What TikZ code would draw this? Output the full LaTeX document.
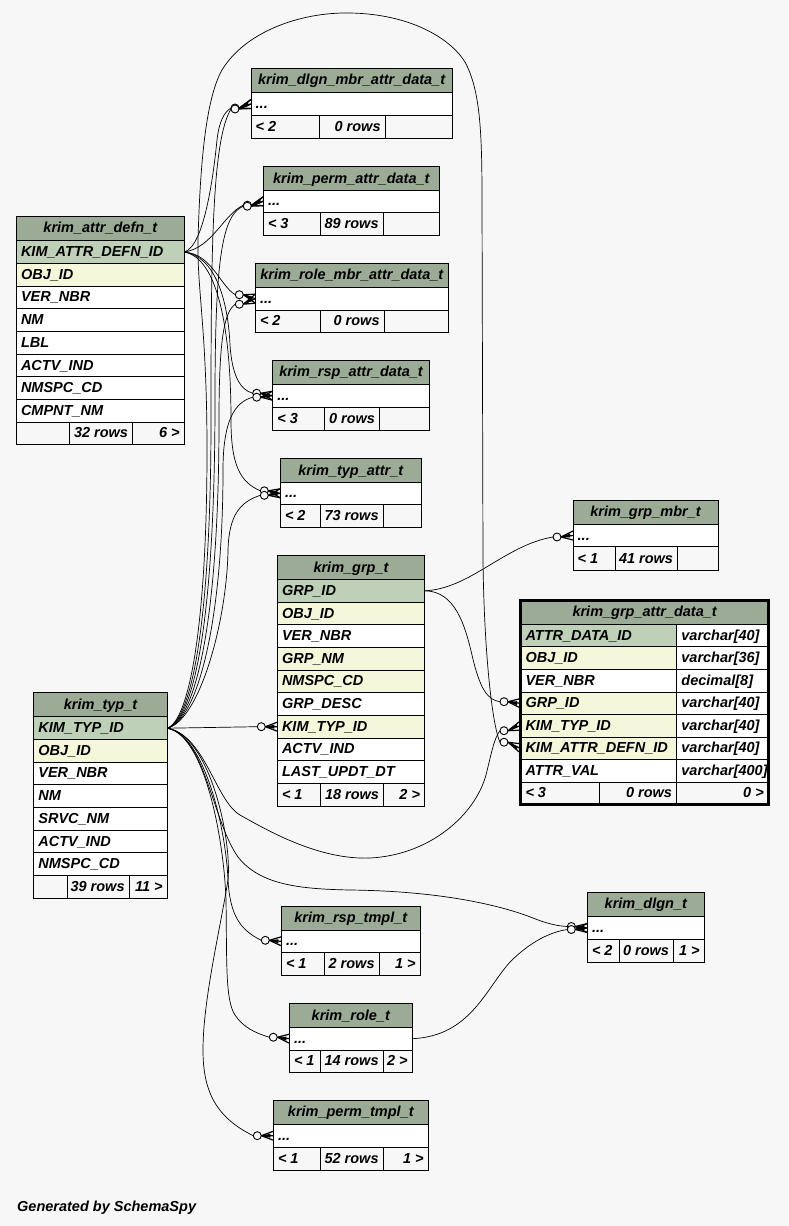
\documentclass[tikz,border=0pt]{standalone}
\usepackage{fontspec}
\setmainfont{Liberation Sans}
\usetikzlibrary{backgrounds}
\definecolor{bgc}{HTML}{F7F7F7}
\definecolor{hdc}{HTML}{9BAB96}
\definecolor{pkc}{HTML}{BED1B8}
\definecolor{ixc}{HTML}{F4F7DA}
\newcommand\fnt{\fontsize{14.5}{17}\selectfont\bfseries\itshape}
\newcommand\cbx[5]{\path[cell,fill=#5] (#1,#2) rectangle (#3,#4);}
\newcommand\rL[7]{\cbx{#2}{#3}{#4}{#5}{#6}\node[txt,anchor=base west] (#1) at ({#2+4.5},{(#3+#5)/2+4.5}) {#7};}
\newcommand\rR[7]{\cbx{#2}{#3}{#4}{#5}{#6}\node[txt,anchor=base east] (#1) at ({#4-4.5},{(#3+#5)/2+4.5}) {#7};}
\newcommand\rC[7]{\cbx{#2}{#3}{#4}{#5}{#6}\node[txt,anchor=base] (#1) at ({(#2+#4)/2},{(#3+#5)/2+4.5}) {#7};}
\newcommand\mkr[4]{%
 \coordinate (#1) at ({#2-20},{#3+(#4)});
 \draw[mk,fill=bgc] ({#2-16},{#3+(#4)}) circle[radius=4pt];
 \draw[crow] ({#2-12},{#3+(#4)}) -- (#2,{#3-4.5}) ({#2-12},{#3+(#4)}) -- (#2,#3) ({#2-12},{#3+(#4)}) -- (#2,{#3+4.5});
 \fill ({#2-12},{#3+(#4)}) -- ({#2-3},{#3-2}) -- ({#2-3},{#3+2}) -- cycle;}
\tikzset{
 cell/.style={draw=black,line width=0.9pt},
 txt/.style={inner sep=0pt,font=\fnt},
 mk/.style={draw=black,line width=0.9pt},
 crow/.style={draw=black,line width=1.2pt},
 edge/.style={draw=black,line width=0.7pt}
}
\begin{document}
\begin{tikzpicture}[x=1pt,y=-1pt]
\begin{scope}[on background layer]
\path[fill=bgc] (0,0) rectangle (789,1226);
\end{scope}
\useasboundingbox (0,0) rectangle (789,1226);

% krim_dlgn_mbr_attr_data_t
\rC{dm-h}{251}{68.3}{452.3}{92.3}{hdc}{krim\_dlgn\_mbr\_attr\_data\_t}
\rL{dm-r}{251}{92.3}{452.3}{115.7}{white}{...}
\rL{dm-f1}{251}{115.7}{319.3}{138}{bgc}{< 2}
\rR{dm-f2}{319.3}{115.7}{385.3}{138}{bgc}{0 rows}
\cbx{385.3}{115.7}{452.3}{138}{bgc}

% krim_perm_attr_data_t
\rC{pa-h}{263.3}{166.7}{439.3}{190.3}{hdc}{krim\_perm\_attr\_data\_t}
\rL{pa-r}{263.3}{190.3}{439.3}{212}{white}{...}
\rL{pa-f1}{263.3}{212}{320.3}{235}{bgc}{< 3}
\rR{pa-f2}{320.3}{212}{383.3}{235}{bgc}{89 rows}
\cbx{383.3}{212}{439.3}{235}{bgc}

% krim_attr_defn_t
\rC{ad-h}{16.3}{216}{184.3}{240.7}{hdc}{krim\_attr\_defn\_t}
\rL{ad-1}{16.3}{240.7}{184.3}{263.4}{pkc}{KIM\_ATTR\_DEFN\_ID}
\rL{ad-2}{16.3}{263.4}{184.3}{286.1}{ixc}{OBJ\_ID}
\rL{ad-3}{16.3}{286.1}{184.3}{308.8}{white}{VER\_NBR}
\rL{ad-4}{16.3}{308.8}{184.3}{331.5}{white}{NM}
\rL{ad-5}{16.3}{331.5}{184.3}{354.2}{white}{LBL}
\rL{ad-6}{16.3}{354.2}{184.3}{376.9}{white}{ACTV\_IND}
\rL{ad-7}{16.3}{376.9}{184.3}{399.6}{white}{NMSPC\_CD}
\rL{ad-8}{16.3}{399.6}{184.3}{422.3}{white}{CMPNT\_NM}
\cbx{16.3}{422.3}{69}{444.3}{bgc}
\rR{ad-f2}{69}{422.3}{132.7}{444.3}{bgc}{32 rows}
\rR{ad-f3}{132.7}{422.3}{184.3}{444.3}{bgc}{6 >}

% krim_role_mbr_attr_data_t
\rC{rm-h}{255.3}{263.3}{448.3}{287.3}{hdc}{krim\_role\_mbr\_attr\_data\_t}
\rL{rm-r}{255.3}{287.3}{448.3}{310}{white}{...}
\rL{rm-f1}{255.3}{310}{320.3}{332.3}{bgc}{< 2}
\rR{rm-f2}{320.3}{310}{384.3}{332.3}{bgc}{0 rows}
\cbx{384.3}{310}{448.3}{332.3}{bgc}

% krim_rsp_attr_data_t
\rC{ra-h}{272.7}{360.3}{429.3}{384.3}{hdc}{krim\_rsp\_attr\_data\_t}
\rL{ra-r}{272.7}{384.3}{429.3}{407}{white}{...}
\rL{ra-f1}{272.7}{407}{324.3}{430}{bgc}{< 3}
\rR{ra-f2}{324.3}{407}{379.7}{430}{bgc}{0 rows}
\cbx{379.7}{407}{429.3}{430}{bgc}

% krim_typ_attr_t
\rC{ta-h}{280.3}{458.7}{421.3}{482.3}{hdc}{krim\_typ\_attr\_t}
\rL{ta-r}{280.3}{482.3}{421.3}{504.3}{white}{...}
\rL{ta-f1}{280.3}{504.3}{320.3}{527.3}{bgc}{< 2}
\rR{ta-f2}{320.3}{504.3}{383.3}{527.3}{bgc}{73 rows}
\cbx{383.3}{504.3}{421.3}{527.3}{bgc}

% krim_grp_t
\rC{gp-h}{277.3}{555.7}{424.7}{579.3}{hdc}{krim\_grp\_t}
\rL{gp-1}{277.3}{579.3}{424.7}{602.3}{pkc}{GRP\_ID}
\rL{gp-2}{277.3}{602.3}{424.7}{624.7}{ixc}{OBJ\_ID}
\rL{gp-3}{277.3}{624.7}{424.7}{647.3}{white}{VER\_NBR}
\rL{gp-4}{277.3}{647.3}{424.7}{670}{ixc}{GRP\_NM}
\rL{gp-5}{277.3}{670}{424.7}{692.3}{ixc}{NMSPC\_CD}
\rL{gp-6}{277.3}{692.3}{424.7}{715.3}{white}{GRP\_DESC}
\rL{gp-7}{277.3}{715.3}{424.7}{738}{ixc}{KIM\_TYP\_ID}
\rL{gp-8}{277.3}{738}{424.7}{760.3}{white}{ACTV\_IND}
\rL{gp-9}{277.3}{760.3}{424.7}{783.3}{white}{LAST\_UPDT\_DT}
\rL{gp-f1}{277.3}{783.3}{320.3}{806}{bgc}{< 1}
\rR{gp-f2}{320.3}{783.3}{383.7}{806}{bgc}{18 rows}
\rR{gp-f3}{383.7}{783.3}{424.7}{806}{bgc}{2 >}

% krim_grp_mbr_t
\rC{gm-h}{573}{500.3}{718}{524.3}{hdc}{krim\_grp\_mbr\_t}
\rL{gm-r}{573}{524.3}{718}{546.7}{white}{...}
\rL{gm-f1}{573}{546.7}{615.3}{570.3}{bgc}{< 1}
\rR{gm-f2}{615.3}{546.7}{677.7}{570.3}{bgc}{41 rows}
\cbx{677.7}{546.7}{718}{570.3}{bgc}

% krim_grp_attr_data_t
\rC{ga-h}{520.8}{600.5}{768.5}{624.3}{hdc}{krim\_grp\_attr\_data\_t}
\rL{ga-1}{520.8}{624.3}{676.7}{646.7}{pkc}{ATTR\_DATA\_ID}
\rL{ga-1t}{676.7}{624.3}{768.5}{646.7}{white}{varchar[40]}
\rL{ga-2}{520.8}{646.7}{676.7}{669}{ixc}{OBJ\_ID}
\rL{ga-2t}{676.7}{646.7}{768.5}{669}{white}{varchar[36]}
\rL{ga-3}{520.8}{669}{676.7}{692}{white}{VER\_NBR}
\rL{ga-3t}{676.7}{669}{768.5}{692}{white}{decimal[8]}
\rL{ga-4}{520.8}{692}{676.7}{714.3}{ixc}{GRP\_ID}
\rL{ga-4t}{676.7}{692}{768.5}{714.3}{white}{varchar[40]}
\rL{ga-5}{520.8}{714.3}{676.7}{737}{ixc}{KIM\_TYP\_ID}
\rL{ga-5t}{676.7}{714.3}{768.5}{737}{white}{varchar[40]}
\rL{ga-6}{520.8}{737}{676.7}{759.3}{ixc}{KIM\_ATTR\_DEFN\_ID}
\rL{ga-6t}{676.7}{737}{768.5}{759.3}{white}{varchar[40]}
\rL{ga-7}{520.8}{759.3}{676.7}{782}{white}{ATTR\_VAL}
\rL{ga-7t}{676.7}{759.3}{768.5}{782}{white}{varchar[400]}
\rL{ga-f1}{520.8}{782}{599.3}{804.5}{bgc}{< 3}
\rR{ga-f2}{599.3}{782}{676.7}{804.5}{bgc}{0 rows}
\rR{ga-f3}{676.7}{782}{768.5}{804.5}{bgc}{0 >}
\draw[line width=3pt] (520.8,600.5) rectangle (768.5,804.5);

% krim_typ_t
\rC{ty-h}{33.7}{692.7}{167.3}{716.7}{hdc}{krim\_typ\_t}
\rL{ty-1}{33.7}{716.7}{167.3}{739.7}{pkc}{KIM\_TYP\_ID}
\rL{ty-2}{33.7}{739.7}{167.3}{762}{ixc}{OBJ\_ID}
\rL{ty-3}{33.7}{762}{167.3}{784.3}{white}{VER\_NBR}
\rL{ty-4}{33.7}{784.3}{167.3}{807.3}{white}{NM}
\rL{ty-5}{33.7}{807.3}{167.3}{830.3}{white}{SRVC\_NM}
\rL{ty-6}{33.7}{830.3}{167.3}{852.7}{white}{ACTV\_IND}
\rL{ty-7}{33.7}{852.7}{167.3}{875.3}{white}{NMSPC\_CD}
\cbx{33.7}{875.3}{67.7}{898.3}{bgc}
\rR{ty-f2}{67.7}{875.3}{129.3}{898.3}{bgc}{39 rows}
\rR{ty-f3}{129.3}{875.3}{167.3}{898.3}{bgc}{11 >}

% krim_rsp_tmpl_t
\rC{rt-h}{281.3}{906.3}{420.3}{930.3}{hdc}{krim\_rsp\_tmpl\_t}
\rL{rt-r}{281.3}{930.3}{420.3}{952.3}{white}{...}
\rL{rt-f1}{281.3}{952.3}{324.3}{975.3}{bgc}{< 1}
\rR{rt-f2}{324.3}{952.3}{379.3}{975.3}{bgc}{2 rows}
\rR{rt-f3}{379.3}{952.3}{420.3}{975.3}{bgc}{1 >}

% krim_role_t
\rC{ro-h}{289.3}{1003.7}{412.3}{1027.3}{hdc}{krim\_role\_t}
\rL{ro-r}{289.3}{1027.3}{412.3}{1050}{white}{...}
\rL{ro-f1}{289.3}{1050}{320.3}{1072.3}{bgc}{< 1}
\rR{ro-f2}{320.3}{1050}{383.3}{1072.3}{bgc}{14 rows}
\rR{ro-f3}{383.3}{1050}{412.3}{1072.3}{bgc}{2 >}

% krim_perm_tmpl_t
\rC{pt-h}{273.3}{1100.3}{428.3}{1124.3}{hdc}{krim\_perm\_tmpl\_t}
\rL{pt-r}{273.3}{1124.3}{428.3}{1147}{white}{...}
\rL{pt-f1}{273.3}{1147}{320.3}{1170}{bgc}{< 1}
\rR{pt-f2}{320.3}{1147}{383.3}{1170}{bgc}{52 rows}
\rR{pt-f3}{383.3}{1147}{428.3}{1170}{bgc}{1 >}

% krim_dlgn_t
\rC{dg-h}{587.3}{892.3}{704.3}{916.3}{hdc}{krim\_dlgn\_t}
\rL{dg-r}{587.3}{916.3}{704.3}{939.7}{white}{...}
\rL{dg-f1}{587.3}{939.7}{619.3}{962.3}{bgc}{< 2}
\rR{dg-f2}{619.3}{939.7}{673.7}{962.3}{bgc}{0 rows}
\rR{dg-f3}{673.7}{939.7}{704.3}{962.3}{bgc}{1 >}

\node[txt,anchor=base west] (gen) at (17,1211) {Generated by SchemaSpy};

% ports
\coordinate (ad) at (184.3,252.05);
\coordinate (ty) at (167.3,728.2);
\coordinate (gr) at (424.7,590.8);
\coordinate (ro) at (412.3,1038.7);

% markers
\mkr{dmA}{251}{104}{4}
\mkr{dmT}{251}{104}{5}
\mkr{pmA}{263.3}{201.2}{4}
\mkr{pmT}{263.3}{201.2}{5}
\mkr{rmA}{255.3}{298.7}{-4}
\mkr{rmT}{255.3}{298.7}{5.5}
\mkr{raA}{272.7}{395.7}{-2.5}
\mkr{raT}{272.7}{395.7}{1.5}
\mkr{taA}{280.3}{493.3}{-2.5}
\mkr{taT}{280.3}{493.3}{2}
\mkr{gkT}{277.3}{726.7}{0}
\mkr{gmG}{573}{535.5}{1.5}
\mkr{gaG}{520}{703.2}{-1.5}
\mkr{gaT}{520}{725.7}{5}
\mkr{gaD}{520}{748.2}{-6}
\mkr{rtT}{281.3}{941.3}{-1}
\mkr{roT}{289.3}{1038.7}{-1.5}
\mkr{ptT}{273.3}{1135.7}{0}
\mkr{dgT}{587.3}{928}{-1.5}
\mkr{dgR}{587.3}{928}{1.5}

\begin{scope}[on background layer]
% big loop
\draw[edge] (ty) .. controls (190,720) and (207,620) .. (207,450) .. controls (207,330) and (197,290) .. (198,240) .. controls (200,170) and (205,100) .. (222,70) .. controls (245,32) and (300,12) .. (350,13) .. controls (410,14) and (450,38) .. (465,62) .. controls (480,90) and (482,130) .. (482,200) -- (483,560) .. controls (484,650) and (492,725) .. (gaD);
% upward from typ
\draw[edge] (ty) .. controls (192,720) and (211,620) .. (211,420) .. controls (211,250) and (212,140) .. (dmT);
\draw[edge] (ty) .. controls (194,720) and (215,620) .. (215,400) .. controls (215,260) and (222,215) .. (pmT);
\draw[edge] (ty) .. controls (196,720) and (219,620) .. (219,420) .. controls (219,340) and (224,312) .. (rmT);
\draw[edge] (ty) .. controls (198,720) and (223,620) .. (223,470) .. controls (223,420) and (235,402) .. (raT);
\draw[edge] (ty) .. controls (200,720) and (227,620) .. (228,550) .. controls (229,515) and (240,502) .. (taT);
% from attr_defn
\draw[edge] (ad) .. controls (205,246) and (214,170) .. (217,140) .. controls (219,122) and (224,112) .. (dmA);
\draw[edge] (ad) .. controls (212,248) and (224,214) .. (pmA);
\draw[edge] (ad) .. controls (212,254) and (220,286) .. (rmA);
\draw[edge] (ad) .. controls (215,256) and (228,300) .. (230,345) .. controls (232,375) and (240,390) .. (raA);
\draw[edge] (ad) .. controls (218,258) and (231,330) .. (231,420) .. controls (231,465) and (240,482) .. (taA);
% downward from typ
\draw[edge] (ty) -- (gkT);
\draw[edge] (ty) .. controls (205,735) and (215,800) .. (240,815) .. controls (270,832) and (320,860) .. (370,858) .. controls (430,855) and (475,815) .. (486,775) .. controls (491,755) and (494,738) .. (gaT);
\draw[edge] (ty) .. controls (205,735) and (212,820) .. (238,857) .. controls (260,885) and (300,889) .. (350,890) .. controls (440,891) and (500,905) .. (533,918) .. controls (548,924) and (558,926) .. (dgT);
\draw[edge] (ty) .. controls (205,735) and (226,830) .. (228,880) .. controls (230,915) and (240,930) .. (rtT);
\draw[edge] (ty) .. controls (205,735) and (224,840) .. (226,900) .. controls (227,960) and (225,1000) .. (235,1015) .. controls (243,1027) and (255,1033) .. (roT);
\draw[edge] (ty) .. controls (210,735) and (232,840) .. (228,880) .. controls (220,930) and (203,1000) .. (203,1050) .. controls (203,1090) and (215,1117) .. (ptT);
% from grp
\draw[edge] (gr) .. controls (470,589) and (505,545) .. (gmG);
\draw[edge] (gr) .. controls (455,591) and (465,625) .. (472,655) .. controls (480,690) and (488,700) .. (gaG);
% from role
\draw[edge] (ro) .. controls (470,1036) and (485,990) .. (510,962) .. controls (530,942) and (550,932) .. (dgR);
\end{scope}
\end{tikzpicture}
\end{document}
